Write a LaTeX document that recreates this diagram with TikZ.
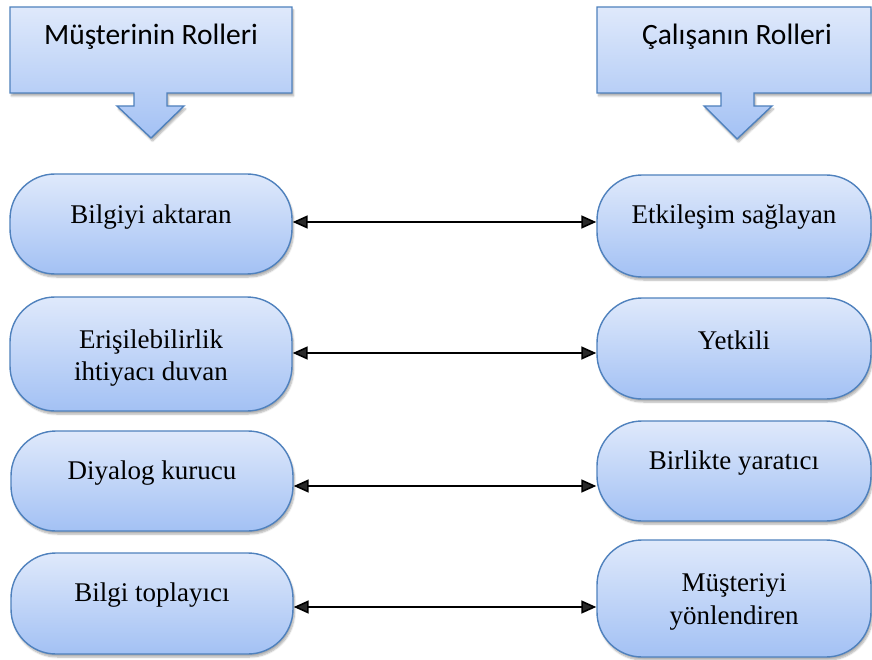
\documentclass[tikz,border=0pt]{standalone}
\usepackage{fontspec}
\setmainfont{Liberation Serif}
\newfontfamily\headfont{Carlito}
\usetikzlibrary{arrows.meta,shadows.blur}

\definecolor{boxtop}{HTML}{DFE9FB}
\definecolor{boxbottom}{HTML}{A3C1F4}
\definecolor{boxline}{HTML}{4F81BD}

\tikzset{
  softshadow/.style={blur shadow={shadow blur steps=6, shadow xshift=1.5pt, shadow yshift=-3pt, shadow opacity=32}},
  rolebox/.style={draw=boxline, line width=1.4pt, rounded corners=45pt,
    top color=boxtop, bottom color=boxbottom, softshadow},
  headshape/.style={draw=boxline, line width=1.4pt,
    top color=boxtop, bottom color=boxbottom, softshadow},
  headtext/.style={font=\headfont\fontsize{29.5}{35}\selectfont, inner sep=0pt},
  roletext/.style={font=\fontsize{27}{32.5}\selectfont, align=center, inner sep=0pt},
  biarrow/.style={line width=1.6pt, {Triangle[length=15pt,width=13pt]}-{Triangle[length=15pt,width=13pt]}}
}

\begin{document}
\begin{tikzpicture}[x=1pt,y=-1pt]
\useasboundingbox (0,0) rectangle (872,660);

% header callouts with down arrows
\path[headshape] (10,7) -- (292,7) -- (292,93) -- (167,93) -- (167,106) -- (184,106)
  -- (151,138) -- (117,106) -- (134,106) -- (134,93) -- (10,93) -- cycle;
\path[headshape] (597,7) -- (871,7) -- (871,93) -- (754,93) -- (754,106) -- (772,106)
  -- (737,139) -- (704,106) -- (721,106) -- (721,93) -- (597,93) -- cycle;
\node[headtext] (hleft) at (151,37) {Müşterinin Rolleri};
\node[headtext] (hright) at (737,37) {Çalışanın Rolleri};

% customer roles
\node[rolebox, minimum width=282pt, minimum height=100pt] (l1) at (151,224) {};
\node[rolebox, minimum width=282pt, minimum height=114pt] (l2) at (151,354) {};
\node[rolebox, minimum width=282pt, minimum height=100pt] (l3) at (152,481) {};
\node[rolebox, minimum width=282pt, minimum height=101pt] (l4) at (152,603.5) {};

% employee roles
\node[rolebox, minimum width=274pt, minimum height=102pt] (r1) at (734,226) {};
\node[rolebox, minimum width=274pt, minimum height=101pt] (r2) at (734,348.5) {};
\node[rolebox, minimum width=274pt, minimum height=100pt] (r3) at (734,471) {};
\node[rolebox, minimum width=274pt, minimum height=117pt] (r4) at (734,598.5) {};

% labels
\node[roletext] (tl1) at (151,217) {Bilgiyi aktaran};
\node[roletext] (tl2) at (151,358) {Erişilebilirlik\\ihtiyacı duvan};
\node[roletext] (tl3) at (152,473) {Diyalog kurucu};
\node[roletext] (tl4) at (152,595) {Bilgi toplayıcı};
\node[roletext] (tr1) at (734,217) {Etkileşim sağlayan};
\node[roletext] (tr2) at (734,340) {Yetkili};
\node[roletext] (tr3) at (734,463) {Birlikte yaratıcı};
\node[roletext] (tr4) at (734,602) {Müşteriyi\\yönlendiren};

% connector heights
\coordinate (y1) at (0,222);
\coordinate (y2) at (0,353);
\coordinate (y3) at (0,486);
\coordinate (y4) at (0,607);

\draw[biarrow] (l1.east |- y1) -- (r1.west |- y1);
\draw[biarrow] (l2.east |- y2) -- (r2.west |- y2);
\draw[biarrow] (l3.east |- y3) -- (r3.west |- y3);
\draw[biarrow] (l4.east |- y4) -- (r4.west |- y4);
\end{tikzpicture}
\end{document}
